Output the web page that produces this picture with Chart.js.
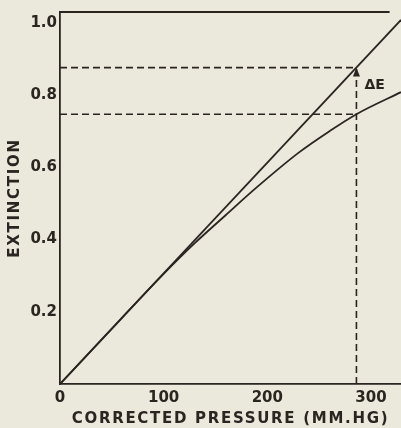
<!DOCTYPE html>
<html>
<head>
<meta charset="utf-8">
<script src="https://cdn.jsdelivr.net/npm/chart.js@4"></script>
<style>
  html, body { margin: 0; padding: 0; background: #ebe8dc; }
  #wrap { width: 401px; height: 428px; }
</style>
</head>
<body>
<div id="wrap"><canvas id="c"></canvas></div>
<script>
// Extinction vs corrected pressure - straight (ideal) line and the real curve

var INK = '#2a2521';
var PAPER = '#ebe8dc';

// data
var straightX = [0, 329];
var straightY = [0, 1.008];
var curveX = [0, 60, 100, 130, 160, 190, 230, 260, 286, 329];
var curveY = [0, 0.184, 0.305, 0.390, 0.468, 0.545, 0.640, 0.700, 0.747, 0.808];
var markX = 286;          // pressure of the dashed guide
var markUpper = 0.876;    // extinction on the straight line
var markLower = 0.747;    // extinction on the curve
var xTicks = [0, 100, 200, 300];
var yTicks = [0.2, 0.4, 0.6, 0.8, 1.0];

function pts(xs, ys) {
  return xs.map(function (x, i) { return { x: x, y: ys[i] }; });
}

var dashStyle = { borderColor: INK, borderWidth: 1.6, borderDash: [7, 4], pointRadius: 0, fill: false };

var datasets = [
  { data: pts(straightX, straightY), borderColor: INK, borderWidth: 1.8, pointRadius: 0, fill: false },
  { data: pts(curveX, curveY), borderColor: INK, borderWidth: 1.8, pointRadius: 0, fill: false, cubicInterpolationMode: 'monotone' },
  Object.assign({ data: pts([0, markX], [markUpper, markUpper]) }, dashStyle),
  Object.assign({ data: pts([0, markX], [markLower, markLower]) }, dashStyle),
  Object.assign({ data: pts([markX, markX], [0, markUpper]) }, dashStyle)
];

// paper background, letter spacing for axis titles, top frame line, ΔE arrow
var decorPlugin = {
  id: 'decor',
  beforeDraw: function (chart) {
    var ctx = chart.ctx;
    ctx.save();
    ctx.fillStyle = PAPER;
    ctx.fillRect(0, 0, chart.width, chart.height);
    ctx.restore();
    ctx.letterSpacing = '1.7px';
  },
  beforeDatasetsDraw: function (chart) {
    chart.ctx.letterSpacing = '0px';
  },
  afterDraw: function (chart) {
    var ctx = chart.ctx;
    var xs = chart.scales.x, ys = chart.scales.y;
    var area = chart.chartArea;
    ctx.save();
    // top frame
    ctx.strokeStyle = INK;
    ctx.lineWidth = 1.8;
    ctx.beginPath();
    ctx.moveTo(area.left, area.top);
    ctx.lineTo(xs.getPixelForValue(318), area.top);
    ctx.stroke();
    // arrow head on the ΔE guide
    var ax = xs.getPixelForValue(markX);
    var ay = ys.getPixelForValue(markUpper);
    ctx.fillStyle = INK;
    ctx.beginPath();
    ctx.moveTo(ax, ay);
    ctx.lineTo(ax - 3.5, ay + 9);
    ctx.lineTo(ax + 3.5, ay + 9);
    ctx.closePath();
    ctx.fill();
    // label
    ctx.font = "bold 14px 'DejaVu Sans'";
    ctx.textAlign = 'left';
    ctx.textBaseline = 'middle';
    ctx.fillText('ΔE', ax + 8, ys.getPixelForValue((markUpper + markLower) / 2 + 0.015));
    ctx.restore();
  }
};

new Chart(document.getElementById('c'), {
  type: 'line',
  data: { datasets: datasets },
  options: {
    responsive: true, maintainAspectRatio: false, animation: false,
    layout: { padding: { top: 9, right: 0, left: 0, bottom: 0 } },
    plugins: { legend: { display: false }, tooltip: { enabled: false } },
    scales: {
      x: {
        type: 'linear', min: 0, max: 329,
        afterFit: function (s) { s.height = 44; },
        grid: { display: false, drawTicks: false },
        border: { display: true, color: INK, width: 1.8 },
        afterBuildTicks: function (s) { s.ticks = xTicks.map(function (v) { return { value: v }; }); },
        ticks: { z: 1, padding: 5, color: INK, font: { family: 'DejaVu Sans', size: 15, weight: 'bold' }, maxRotation: 0 },
        title: { display: true, text: 'CORRECTED PRESSURE (MM.HG)', color: INK, padding: { top: 0, bottom: 0 },
                 font: { family: 'DejaVu Sans', size: 15, weight: 'bold' } }
      },
      y: {
        type: 'linear', min: 0, max: 1.03,
        afterFit: function (s) { s.width = 60; },
        grid: { display: false, drawTicks: false },
        border: { display: true, color: INK, width: 1.8 },
        afterBuildTicks: function (s) { s.ticks = yTicks.map(function (v) { return { value: v }; }); },
        ticks: { z: 1, padding: 3, color: INK, font: { family: 'DejaVu Sans', size: 15, weight: 'bold' },
                 callback: function (v) { return v.toFixed(1); } },
        title: { display: true, text: 'EXTINCTION', color: INK, padding: { top: 6, bottom: 0 },
                 font: { family: 'DejaVu Sans', size: 15, weight: 'bold' } }
      }
    }
  },
  plugins: [decorPlugin]
});
</script>
</body>
</html>
